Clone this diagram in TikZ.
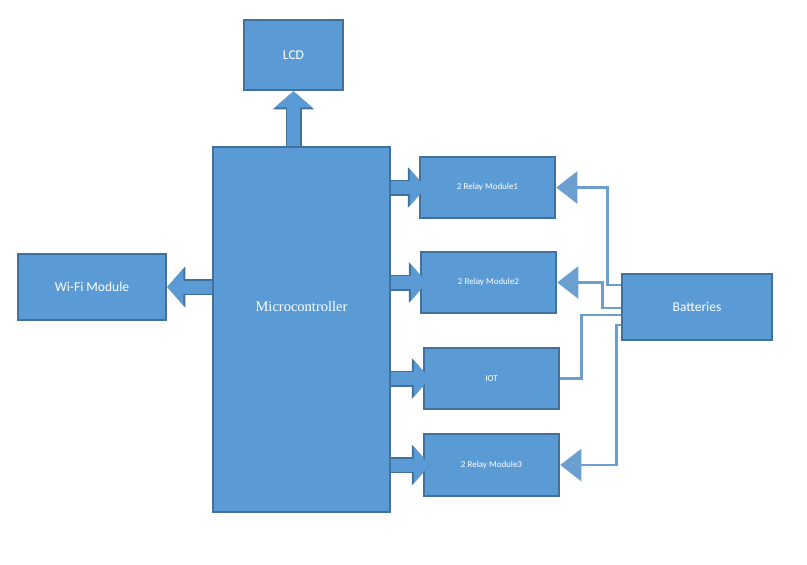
\documentclass[tikz,border=0pt]{standalone}
\usepackage{fontspec}
\setmainfont{Carlito}
\newfontfamily\microfont{Liberation Serif}
\usetikzlibrary{arrows.meta,positioning,calc}
\definecolor{boxfill}{HTML}{5B9BD5}
\definecolor{boxedge}{HTML}{41719C}
\definecolor{feedline}{HTML}{6A9FCF}
\tikzset{
  blockbox/.style={draw=boxedge, fill=boxfill, line width=2.5pt, inner sep=0pt, text=white, align=center, font=\fontsize{13.5}{15}\selectfont},
  relaybox/.style={blockbox, minimum width=135pt, minimum height=61pt, font=\fontsize{9}{11}\selectfont},
  blockarrow/.style={draw=boxfill, line width=13pt, -{Triangle[length=16pt,width=36pt]},
    preaction={draw=boxedge, line width=16pt, -{Triangle[length=18pt,width=40pt]}}},
  feed/.style={draw=feedline, line width=2.5pt},
  feedarrow/.style={feed, -{Triangle[length=21pt,width=32pt]}}
}
\begin{document}
\begin{tikzpicture}[x=1pt,y=-1pt]
\useasboundingbox (0,0) rectangle (807,565);
\node[blockbox, minimum width=99pt, minimum height=70pt] (lcd) at (293.5,55) {LCD};
\node[blockbox, minimum width=177pt, minimum height=365pt,
  label={[text=white, font=\microfont\fontsize{14.5}{16}\selectfont, yshift=23pt]center:Microcontroller}] (micro) at (301.5,329.5) {};
\node[blockbox, minimum width=148pt, minimum height=66pt] (wifi) at (92,287) {Wi-Fi Module};
\node[relaybox] (relayA) at (487.5,187.5) {2 Relay Module1};
\node[relaybox] (relayB) at (488.5,282.5) {2 Relay Module2};
\node[relaybox] (iot) at (491.5,378.5) {IOT};
\node[relaybox, minimum height=62pt] (relayC) at (491.5,465) {2 Relay Module3};
\node[blockbox, minimum width=150pt, minimum height=66pt] (batt) at (697,307) {Batteries};
% outputs of the microcontroller
\draw[blockarrow] (micro.north -| lcd) -- (lcd.south);
\draw[blockarrow] (micro.west |- wifi) -- (wifi.east);
\draw[blockarrow] (micro.east |- relayA) -- ([xshift=7pt]relayA.west);
\draw[blockarrow] (micro.east |- relayB) -- ([xshift=7pt]relayB.west);
\draw[blockarrow] (micro.east |- iot) -- ([xshift=7pt]iot.west);
\draw[blockarrow] (micro.east |- relayC) -- ([xshift=7pt]relayC.west);
% supply from the batteries
\draw[feedarrow] ([yshift=22pt]batt.west) -| ([xshift=51pt]relayA.east) -- (relayA.east);
\draw[feedarrow] ([yshift=-1pt]batt.west) -| ([xshift=45pt]relayB.east) -- (relayB.east);
\draw[feed] ([yshift=-8pt]batt.west) -| ([xshift=21pt]iot.east) -- (iot.east);
\draw[feedarrow] ([yshift=-18pt]batt.west) -| ([xshift=56pt]relayC.east) -- (relayC.east);
\end{tikzpicture}
\end{document}
